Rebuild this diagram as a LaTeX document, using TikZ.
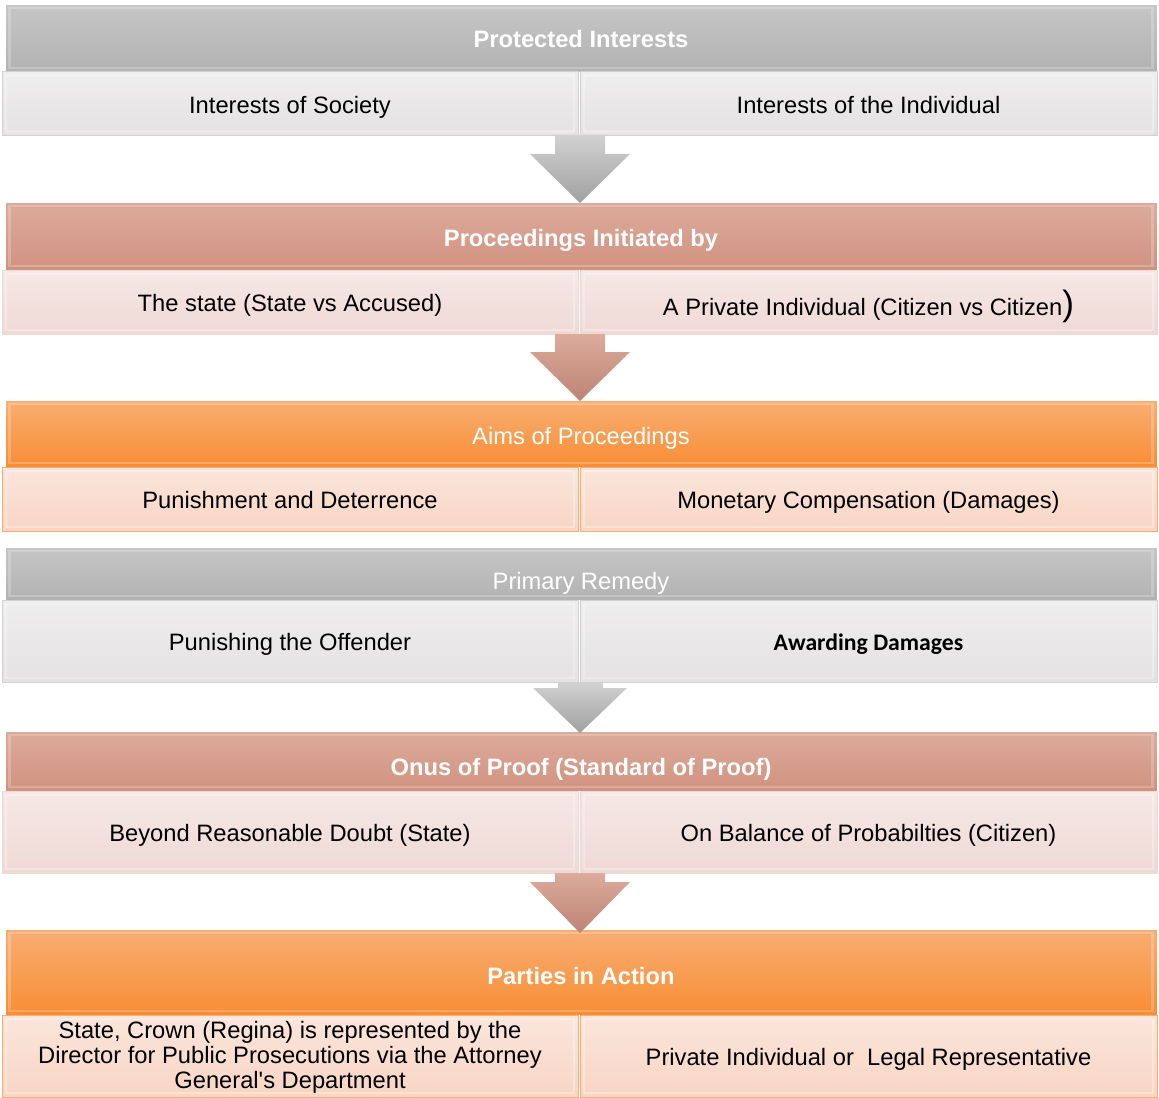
\documentclass[tikz,border=0pt]{standalone}
\usepackage{fontspec}
\setmainfont{Liberation Sans}
\newfontfamily\calibri{Carlito}
\usepackage{tikz}

\definecolor{grayhi}{HTML}{C6C6C6}
\definecolor{graylo}{HTML}{B2B2B2}
\definecolor{graycell}{HTML}{E4E2E2}
\definecolor{redhi}{HTML}{DCAB9C}
\definecolor{redlo}{HTML}{D19280}
\definecolor{redcell}{HTML}{EFD9D5}
\definecolor{orahi}{HTML}{F8AE74}
\definecolor{oralo}{HTML}{F88D33}
\definecolor{oracell}{HTML}{F8D5C4}

\begin{document}
\begin{tikzpicture}[x=0.02cm, y=-0.02cm,
  every node/.style={inner sep=0pt, font=\fontsize{13.5}{14.2}\selectfont},
  bevel/.style={path picture={\draw[white, opacity=#1, line width=1.6pt]
      ([shift={(4,4)}]path picture bounding box.north west) rectangle
      ([shift={(-4,-4)}]path picture bounding box.south east);}},
  hdr/.style={bevel=.22, minimum width=23.04cm, draw=white, line width=.4pt},
  lcell/.style={bevel=.3, minimum width=11.52cm, text=black, text height=14pt, text depth=2.9pt},
  rcell/.style={bevel=.3, minimum width=11.54cm, text=black, text height=14pt, text depth=2.9pt},
  htext/.style={text=white, text height=14pt, text depth=2.9pt}]
  \useasboundingbox (0,0) rectangle (1159,1098);

  \node[hdr, top color=grayhi, bottom color=graylo, minimum height=1.36cm] (h1) at (581,38) {};
  \node[htext, font=\fontsize{13.5}{14.2}\selectfont\bfseries] (h1t) at (581,38) {Protected Interests};
  \node[lcell, top color=graycell!60!white, bottom color=graycell, draw=gray!35, minimum height=1.27cm] (s1l) at (290,103.5) {Interests of Society};
  \node[rcell, top color=graycell!60!white, bottom color=graycell, draw=gray!35, minimum height=1.27cm] (s1r) at (868.5,103.5) {Interests of the Individual};

  \node[hdr, top color=redhi, bottom color=redlo, minimum height=1.36cm] (h2) at (581,236) {};
  \node[htext, font=\fontsize{13.5}{14.2}\selectfont\bfseries] (h2t) at (581,236.5) {Proceedings Initiated by};
  \node[lcell, top color=redcell!60!white, bottom color=redcell, draw=redlo!35, minimum height=1.28cm] (s2l) at (290,302) {The state (State vs Accused)};
  \node[rcell, top color=redcell!60!white, bottom color=redcell, draw=redlo!35, minimum height=1.28cm] (s2r) at (868.5,302) {\raisebox{-2.3pt}{A Private Individual (Citizen vs Citizen{\fontsize{20}{20}\selectfont)}}};

  \node[hdr, top color=orahi, bottom color=oralo, minimum height=1.34cm] (h3) at (581,433.5) {};
  \node[htext] (h3t) at (581,435) {Aims of Proceedings};
  \node[lcell, top color=oracell!60!white, bottom color=oracell, draw=oralo!70, minimum height=1.28cm] (s3l) at (290,499) {Punishment and Deterrence};
  \node[rcell, top color=oracell!60!white, bottom color=oracell, draw=oralo!70, minimum height=1.28cm] (s3r) at (868.5,499) {Monetary Compensation (Damages)};

  \node[hdr, top color=grayhi, bottom color=graylo, minimum height=1.06cm] (h4) at (581,573.5) {};
  \node[htext] (h4t) at (581,580) {Primary Remedy};
  \node[lcell, top color=graycell!60!white, bottom color=graycell, draw=gray!35, minimum height=1.64cm] (s4l) at (290,641) {Punishing the Offender};
  \node[rcell, top color=graycell!60!white, bottom color=graycell, draw=gray!35, minimum height=1.64cm] (s4r) at (868.5,641) {\calibri\bfseries Awarding Damages};

  \node[hdr, top color=redhi, bottom color=redlo, minimum height=1.2cm] (h5) at (581,761) {};
  \node[htext, font=\fontsize{13.5}{14.2}\selectfont\bfseries] (h5t) at (581,766) {Onus of Proof (Standard of Proof)};
  \node[lcell, top color=redcell!60!white, bottom color=redcell, draw=redlo!35, minimum height=1.64cm] (s5l) at (290,832) {Beyond Reasonable Doubt (State)};
  \node[rcell, top color=redcell!60!white, bottom color=redcell, draw=redlo!35, minimum height=1.64cm] (s5r) at (868.5,832) {On Balance of Probabilties (Citizen)};

  \node[hdr, top color=orahi, bottom color=oralo, minimum height=1.72cm] (h6) at (581,972) {};
  \node[htext, font=\fontsize{13.5}{14.2}\selectfont\bfseries] (h6t) at (581,975) {Parties in Action};
  \node[lcell, top color=oracell!60!white, bottom color=oracell, draw=oralo!70, minimum height=1.64cm, text height=, text depth=] (s6l) at (290,1056) {\raisebox{-1.2pt}[\height][\depth]{\begin{tabular}{@{}c@{}}State, Crown (Regina) is represented by the\\Director for Public Prosecutions via the Attorney\\General\textquotesingle s Department\end{tabular}}};
  \node[rcell, top color=oracell!60!white, bottom color=oracell, draw=oralo!70, minimum height=1.64cm] (s6r) at (868.5,1056) {Private Individual or\ \ Legal Representative};

  \shade[top color=grayhi!80!white, bottom color=graylo!90!black] (555,135) -- (605,135) -- (605,154) -- (630,154) -- (580,203) -- (530,154) -- (555,154) -- cycle;
  \shade[top color=redhi, bottom color=redlo!90!black] (555,334) -- (605,334) -- (605,352) -- (630,352) -- (580,401) -- (530,352) -- (555,352) -- cycle;
  \shade[top color=grayhi!80!white, bottom color=graylo!90!black] (558,682) -- (603,682) -- (603,688) -- (627,688) -- (580,733) -- (533,688) -- (558,688) -- cycle;
  \shade[top color=redhi, bottom color=redlo!90!black] (555,873) -- (605,873) -- (605,882) -- (630,882) -- (580,933) -- (530,882) -- (555,882) -- cycle;
\end{tikzpicture}
\end{document}
